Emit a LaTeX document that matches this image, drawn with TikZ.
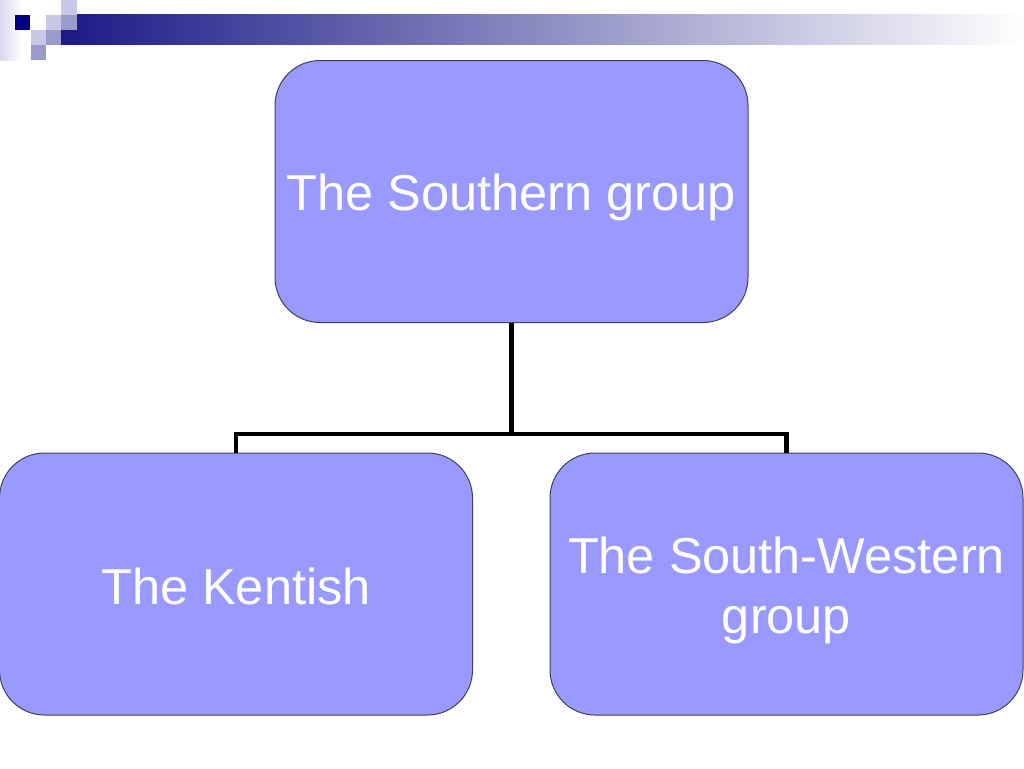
\documentclass[tikz,border=0pt]{standalone}
\usepackage{fontspec}
\setmainfont{Liberation Sans}
\definecolor{boxfill}{HTML}{9999FF}
\definecolor{boxline}{HTML}{404058}
\definecolor{navy}{HTML}{000080}
\definecolor{lightsq}{HTML}{C8C8E6}
\definecolor{medsq}{HTML}{9A9ACC}
\definecolor{barleft}{HTML}{1A1A86}
\begin{document}
\begin{tikzpicture}[x=1pt,y=-1pt,
  orgbox/.style={draw=boxline, line width=1pt, fill=boxfill, rounded corners=45pt,
    minimum width=473pt, minimum height=262pt, inner sep=0pt},
  lbl/.style={text=white, font=\fontsize{50.5}{60}\selectfont, align=center, inner sep=0pt},
  link/.style={line width=4.5pt, draw=black}]
\useasboundingbox (0,0) rectangle (1024,768);
% header decoration
\shade[left color=lightsq!70, right color=white] (0,0) rectangle (22,60);
\shade[left color=barleft, right color=white] (61,15) rectangle (1024,45);
\fill[lightsq] (61,0) rectangle (77,15);
\fill[lightsq] (46,15) rectangle (61,30);
\fill[medsq] (61,15) rectangle (77,30);
\fill[lightsq] (31,30) rectangle (46,45);
\fill[medsq] (46,30) rectangle (61,45);
\fill[medsq] (31,45) rectangle (46,60);
\fill[navy] (15,15) rectangle (30,30);
% boxes
\node[orgbox] (top) at (511.5,191.5) {};
\node[orgbox] (left) at (236,584) {};
\node[orgbox] (right) at (786.5,584) {};
\node[lbl] (topText) at ([yshift=-6pt]top.center) {The Southern group};
\node[lbl] (leftText) at ([yshift=-2pt]left.center) {The Kentish};
\node[lbl] (rightText) at ([yshift=-6pt]right.center) {The South-Western\\group};
% connectors
\coordinate (fork) at (511.5,434);
\draw[link] (top.south) -- (fork);
\draw[link] (fork) -| (left.north);
\draw[link] (fork) -| (right.north);
\end{tikzpicture}
\end{document}
